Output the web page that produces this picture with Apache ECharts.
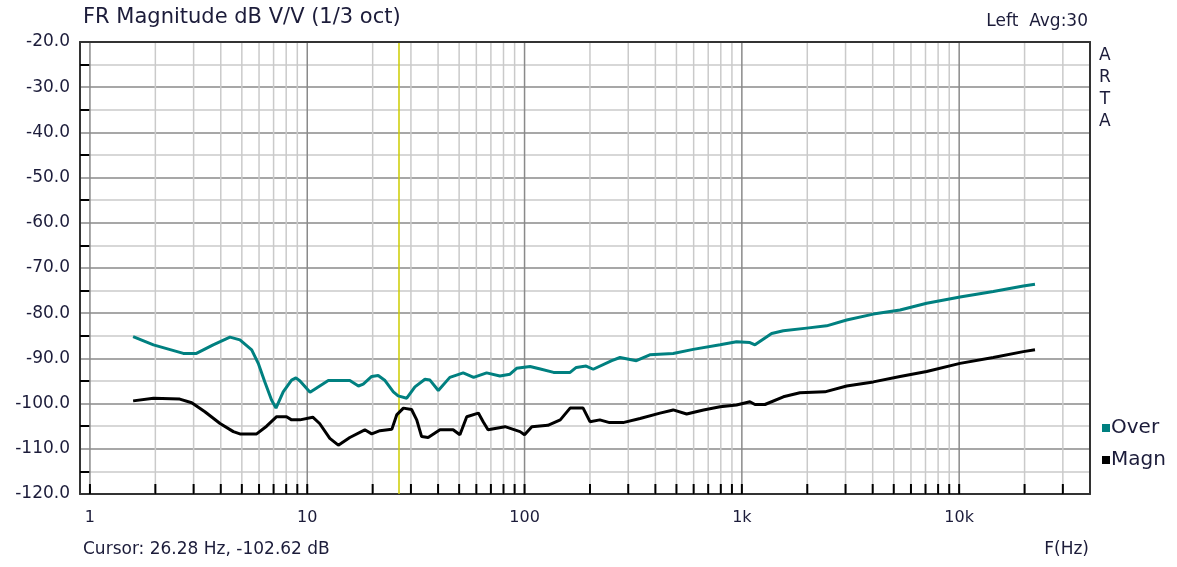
<!DOCTYPE html>
<html><head><meta charset="utf-8">
<script src="https://cdn.jsdelivr.net/npm/echarts@6/dist/echarts.min.js"></script>
<style>html,body{margin:0;padding:0;background:#fff}#c{width:1177px;height:567px}</style>
</head><body><div id="c"></div>
<script>
// ---- data ----
const overFreq = [1.58,1.96,2.69,3.09,3.69,4.41,4.90,5.55,5.95,6.38,6.85,7.18,7.75,8.47,8.87,9.26,10.3,11.0,12.5,15.7,17.2,18.1,19.8,21.2,22.8,24.9,26.2,28.7,31.3,34.8,36.7,40.1,45.3,52.2,58.3,66.9,77.0,85.7,91.9,106,117,136,162,173,192,207,252,275,327,377,483,597,794,945,1089,1149,1371,1552,1987,2455,3035,4027,5345,7088,10090,14350,19730,22330];
const overDb = [-85.2,-87.0,-88.9,-88.9,-87.0,-85.3,-85.9,-88.1,-91.1,-95.2,-99.2,-101.0,-97.4,-94.8,-94.3,-95.0,-97.5,-96.6,-94.9,-94.9,-96.1,-95.7,-94.0,-93.8,-94.9,-97.4,-98.3,-98.8,-96.3,-94.6,-94.8,-97.1,-94.2,-93.2,-94.2,-93.2,-93.9,-93.5,-92.2,-91.8,-92.3,-93.1,-93.1,-92.0,-91.7,-92.4,-90.5,-89.8,-90.5,-89.2,-88.9,-88.0,-87.0,-86.3,-86.5,-87.0,-84.5,-83.9,-83.3,-82.8,-81.5,-80.2,-79.3,-77.8,-76.4,-75.2,-74.0,-73.6];
const magnFreq = [1.58,1.96,2.59,2.94,3.38,3.97,4.57,4.90,5.85,6.50,7.23,8.03,8.47,9.26,10.6,11.4,12.7,13.9,15.7,18.4,19.8,21.6,24.5,25.8,27.7,30.2,31.9,33.6,36.0,40.8,46.9,50.4,54.2,61.3,64.5,67.9,81.3,95.3,100,108,128,146,162,186,200,222,246,284,340,420,483,557,666,794,945,1089,1149,1277,1552,1850,2411,3035,4027,5345,7088,10090,14350,19730,22330];
const magnDb = [-99.4,-98.8,-99.0,-99.8,-101.8,-104.4,-106.2,-106.7,-106.7,-105.0,-102.9,-102.9,-103.6,-103.6,-103.0,-104.4,-107.7,-109.2,-107.5,-105.8,-106.7,-106.0,-105.7,-102.5,-101.0,-101.3,-103.6,-107.3,-107.5,-105.8,-105.8,-106.9,-102.9,-102.1,-104.0,-105.8,-105.1,-106.2,-106.9,-105.1,-104.8,-103.6,-101.0,-101.0,-104.0,-103.6,-104.2,-104.2,-103.3,-102.1,-101.4,-102.3,-101.4,-100.7,-100.3,-99.6,-100.2,-100.2,-98.5,-97.6,-97.4,-96.1,-95.2,-94.0,-92.9,-91.1,-89.8,-88.5,-88.1];
const majorFreqs = [1,10,100,1000,10000];
const minorFreqs = [2,3,4,5,6,7,8,9,20,30,40,50,60,70,80,90,200,300,400,500,600,700,800,900,2000,3000,4000,5000,6000,7000,8000,9000,20000,30000];
const cursorFreq = 26.28;
const X_MIN = 0.9, X_MAX = 40000;
const Y_MIN = -120, Y_MAX = -20, Y_STEP = 10;
const seriesNames = ['Over','Magn'];
const seriesColors = ['#008080','#000000'];

const FONT = 'DejaVu Sans';
const TXT = '#1c1c3a';
const chart = echarts.init(document.getElementById('c'), null, {renderer:'canvas'});

const gridData = majorFreqs.map(f => [f, 1]).concat(minorFreqs.map(f => [f, 0]));
const tickData = majorFreqs.concat(minorFreqs).map(f => [f]);

chart.setOption({
  animation: false,
  backgroundColor: '#ffffff',
  grid: {left: 80, right: 87, top: 42, bottom: 73},
  xAxis: [{
    type: 'log', logBase: 10, min: X_MIN, max: X_MAX, splitNumber: 5,
    axisLine: {show: true, onZero: false, lineStyle: {color: '#333', width: 2}},
    axisTick: {show: false},
    splitLine: {show: false},
    axisLabel: {
      showMinLabel: false, showMaxLabel: false, margin: 16,
      fontFamily: FONT, fontSize: 16, color: TXT,
      formatter: v => { const r = Math.round(v); return r >= 1000 ? (r/1000) + 'k' : String(r); }
    }
  }, {
    type: 'value', position: 'top', min: 0, max: 1, z: 3,
    axisLine: {show: true, onZero: false, lineStyle: {color: '#333', width: 2}},
    axisTick: {show: false}, axisLabel: {show: false}, splitLine: {show: false}
  }],
  yAxis: [{
    type: 'value', min: Y_MIN, max: Y_MAX, interval: Y_STEP,
    axisLine: {show: true, onZero: false, lineStyle: {color: '#333', width: 2}},
    axisTick: {show: true, inside: true, length: 10, lineStyle: {color: 'rgba(0,0,0,0)'}},
    minorTick: {show: true, splitNumber: 2, length: 10, lineStyle: {color: '#000', width: 2}},
    splitLine: {show: true, showMinLine: false, showMaxLine: false, lineStyle: {color: '#8a8a8a', width: 1.5}},
    minorSplitLine: {show: true, lineStyle: {color: '#cacaca', width: 1.5}},
    axisLabel: {margin: 10, fontFamily: FONT, fontSize: 17, color: TXT, formatter: v => v.toFixed(1)}
  }, {
    type: 'value', position: 'right', min: 0, max: 1, z: 3,
    axisLine: {show: true, onZero: false, lineStyle: {color: '#333', width: 2}},
    axisTick: {show: false}, axisLabel: {show: false}, splitLine: {show: false}
  }],
  legend: {
    data: seriesNames, orient: 'vertical', left: 1097, top: 413,
    icon: 'rect', itemWidth: 8, itemHeight: 8, itemGap: 12,
    textStyle: {fontFamily: FONT, fontSize: 20, color: TXT, padding: [0,0,0,-4]},
    selectedMode: false
  },
  graphic: [
    {type: 'text', left: 83, top: 7, style: {text: 'FR Magnitude dB V/V (1/3 oct)', font: '21px "DejaVu Sans"', fill: TXT}},
    {type: 'text', right: 89, top: 13, style: {text: 'Left  Avg:30', font: '17px "DejaVu Sans"', fill: TXT, textAlign: 'right'}},
    {type: 'text', left: 1099, top: 45, style: {text: 'A\nR\nT\nA', font: '17px "DejaVu Sans"', lineHeight: 22, fill: TXT, textAlign: 'center'}},
    {type: 'text', left: 83, top: 541, style: {text: 'Cursor: 26.28 Hz, -102.62 dB', font: '17px "DejaVu Sans"', fill: TXT}},
    {type: 'text', right: 88, top: 541, style: {text: 'F(Hz)', font: '17px "DejaVu Sans"', fill: TXT}}
  ],
  series: [
    {
      type: 'custom', name: 'gridlines', z: 1, silent: true, clip: false,
      data: gridData,
      renderItem: (params, api) => {
        const f = api.value(0), major = api.value(1) === 1;
        const p0 = api.coord([f, Y_MIN]), p1 = api.coord([f, Y_MAX]);
        return {type: 'line', shape: {x1: p0[0], y1: p0[1], x2: p1[0], y2: p1[1]},
          style: {stroke: major ? '#8a8a8a' : '#cacaca', lineWidth: 1.5}};
      }
    },
    {
      type: 'custom', name: 'xticks', z: 4, silent: true, clip: false,
      data: tickData,
      renderItem: (params, api) => {
        const p = api.coord([api.value(0), Y_MIN]);
        return {type: 'line', shape: {x1: p[0], y1: p[1], x2: p[0], y2: p[1] - 10},
          style: {stroke: '#000', lineWidth: 2}};
      }
    },
    {
      type: 'line', name: seriesNames[0], z: 3, showSymbol: false, symbol: 'none',
      color: seriesColors[0], lineStyle: {color: seriesColors[0], width: 3},
      data: overFreq.map((f, i) => [f, overDb[i]])
    },
    {
      type: 'line', name: seriesNames[1], z: 3, showSymbol: false, symbol: 'none',
      color: seriesColors[1], lineStyle: {color: seriesColors[1], width: 3},
      data: magnFreq.map((f, i) => [f, magnDb[i]]),
      markLine: {
        silent: true, symbol: 'none', label: {show: false}, z: 2,
        lineStyle: {color: '#cccc00', type: 'solid', width: 1.5},
        data: [{xAxis: cursorFreq}]
      }
    }
  ]
});
</script></body></html>
